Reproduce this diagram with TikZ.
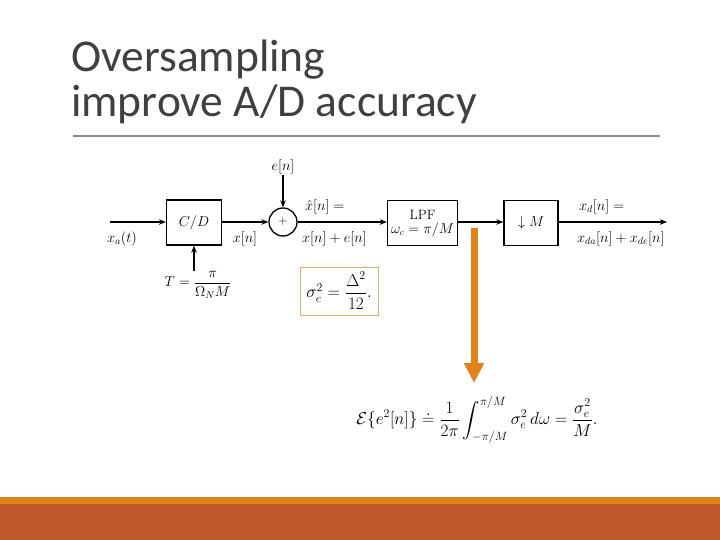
\documentclass[tikz,border=0pt]{standalone}
\usepackage{amsmath}
\usepackage{fontspec}
\newfontfamily\titlefont{Carlito}
\usetikzlibrary{arrows.meta}
\definecolor{titlegray}{HTML}{404040}
\definecolor{barorange}{HTML}{E08119}
\definecolor{barrust}{HTML}{BE582B}
\definecolor{boxtan}{HTML}{D9B060}
\definecolor{rulegray}{HTML}{8C8C8C}
\tikzset{
  blk/.style={draw, line width=1.3pt, minimum height=45pt, inner sep=0pt, font=\fontsize{14}{16}\selectfont},
  sig/.style={-{Stealth[length=7pt,width=5.5pt]}, line width=1.3pt},
  lbl/.style={inner sep=1pt, font=\fontsize{14}{16}\selectfont},
  ttl/.style={anchor=base west, inner sep=0pt, text=titlegray, font=\titlefont\fontsize{45.5}{50}\selectfont},
  bigarrow/.style={barorange, line width=7pt, -{Triangle[length=20pt,width=19pt]}}
}
\begin{document}
\begin{tikzpicture}[x=1pt,y=-1pt]
\useasboundingbox (0,0) rectangle (720,540);
% footer bars
\fill[barorange] (0,497) rectangle (720,504);
\fill[barrust] (0,504) rectangle (720,540);
% title
\node[ttl] (t1) at (71,72) {Oversampling};
\node[ttl] (t2) at (71,117) {improve A/D accuracy};
\draw[rulegray, line width=1.2pt] (73,136) -- (660,136);
% blocks
\node[blk, minimum width=55pt] (cd) at (194,222.5) {$C/D$};
\node[draw, circle, line width=1.3pt, minimum size=28pt, inner sep=0pt, font=\fontsize{13}{15}\selectfont] (sum) at (283,222) {$+$};
\node[blk, minimum width=70pt, align=center, font=\fontsize{13.5}{15}\selectfont] (lpf) at (422.5,223) {\rule{0pt}{11pt}LPF\\[-1pt]$\omega_c=\pi/M$};
\node[blk, minimum width=54pt] (dm) at (531,223) {$\downarrow M$};
% free ends
\coordinate (in) at (110,222);
\coordinate (tin) at (194,271);
\coordinate (out) at (667,222);
% labels
\node[lbl] (xa) at (122,239) {$x_a(t)$};
\node[lbl] (tl) at (198,285) {$T=\dfrac{\pi}{\Omega_N M}$};
\node[lbl] (xn) at (245,239) {$x[n]$};
\node[lbl] (en) at (283,167) {$e[n]$};
\node[lbl, anchor=west] (xh) at (304,207) {$\hat{x}[n]=$};
\node[lbl, anchor=west] (xe) at (301,239) {$x[n]+e[n]$};
\node[lbl, anchor=west] (xd) at (578,207) {$x_d[n]=$};
\node[lbl, anchor=west] (xdd) at (576,239) {$x_{da}[n]+x_{de}[n]$};
% connectors
\draw[sig] (in) -- (in -| cd.west);
\draw[sig] (tin) -- (cd.south);
\draw[sig] (cd.east |- sum.west) -- (sum.west);
\draw[sig] (en.south) -- (sum.north);
\draw[sig] (sum.east) -- (sum.east -| lpf.west);
\draw[sig] (lpf.east |- sum.east) -- (sum.east -| dm.west);
\draw[sig] (dm.east |- out) -- (out);
% sigma box
\node[draw=boxtan, line width=1pt, minimum width=78pt, minimum height=48pt, inner sep=0pt, font=\fontsize{18}{20}\selectfont] (sbox) at (339,291) {$\sigma_e^2=\dfrac{\Delta^2}{12}.$};
% equation
\node[inner sep=0pt, font=\fontsize{17}{20}\selectfont] (eq) at (477,420) {$\displaystyle \mathcal{E}\{e^2[n]\}\doteq\frac{1}{2\pi}\int_{-\pi/M}^{\pi/M}\sigma_e^2\,d\omega=\frac{\sigma_e^2}{M}.$};
% orange arrow
\coordinate (os) at (474,228);
\coordinate (oe) at (474,383);
\draw[bigarrow] (os) -- (oe);
\end{tikzpicture}
\end{document}
